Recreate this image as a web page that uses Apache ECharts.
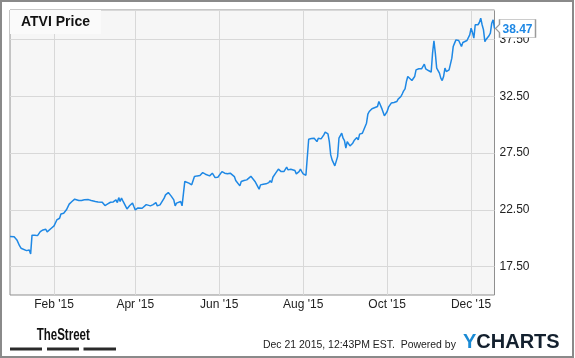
<!DOCTYPE html>
<html><head><meta charset="utf-8">
<script src="https://cdn.jsdelivr.net/npm/echarts@6/dist/echarts.min.js"></script>
<style>html,body{margin:0;padding:0;background:#fff}#c{width:575px;height:358px}</style>
</head><body><div id="c"></div>
<script>
const seriesName = 'ATVI Price';
const dates = [
'2014-12-31','2015-01-03','2015-01-05','2015-01-07','2015-01-08','2015-01-09','2015-01-12','2015-01-13','2015-01-14','2015-01-15','2015-01-16','2015-01-18','2015-01-20','2015-01-21','2015-01-22','2015-01-24','2015-01-26','2015-01-27','2015-01-28','2015-01-30',
'2015-02-01','2015-02-02','2015-02-03','2015-02-04','2015-02-05','2015-02-06','2015-02-08','2015-02-09','2015-02-10','2015-02-12','2015-02-14','2015-02-16','2015-02-17','2015-02-19','2015-02-21','2015-02-23','2015-02-24','2015-02-26','2015-02-28',
'2015-03-03','2015-03-04','2015-03-05','2015-03-06','2015-03-08','2015-03-09','2015-03-10','2015-03-12','2015-03-14','2015-03-16','2015-03-18','2015-03-19','2015-03-20','2015-03-21','2015-03-22','2015-03-23','2015-03-24','2015-03-26','2015-03-28','2015-03-30','2015-03-31',
'2015-04-01','2015-04-03','2015-04-06','2015-04-07','2015-04-09','2015-04-10','2015-04-12','2015-04-14','2015-04-15','2015-04-16','2015-04-17','2015-04-19','2015-04-20','2015-04-22','2015-04-23','2015-04-25','2015-04-26','2015-04-27','2015-04-29','2015-04-30',
'2015-05-01','2015-05-02','2015-05-04','2015-05-05','2015-05-06','2015-05-07','2015-05-08','2015-05-10','2015-05-12','2015-05-13','2015-05-14','2015-05-16','2015-05-18','2015-05-19','2015-05-20','2015-05-22','2015-05-23','2015-05-25','2015-05-27','2015-05-28','2015-05-29','2015-05-31',
'2015-06-01','2015-06-03','2015-06-04','2015-06-05','2015-06-07','2015-06-09','2015-06-10','2015-06-12','2015-06-13','2015-06-14','2015-06-16','2015-06-17','2015-06-19','2015-06-21','2015-06-22','2015-06-24','2015-06-25','2015-06-27','2015-06-29','2015-06-30',
'2015-07-01','2015-07-03','2015-07-05','2015-07-07','2015-07-08','2015-07-09','2015-07-10','2015-07-12','2015-07-14','2015-07-16','2015-07-18','2015-07-20','2015-07-21','2015-07-23','2015-07-24','2015-07-26','2015-07-27','2015-07-29','2015-07-30','2015-07-31',
'2015-08-01','2015-08-03','2015-08-04','2015-08-05','2015-08-07','2015-08-09','2015-08-11','2015-08-12','2015-08-14','2015-08-16','2015-08-17','2015-08-19','2015-08-20','2015-08-21','2015-08-22','2015-08-24','2015-08-25','2015-08-26','2015-08-27','2015-08-29','2015-08-30','2015-08-31',
'2015-09-01','2015-09-02','2015-09-03','2015-09-04','2015-09-06','2015-09-07','2015-09-09','2015-09-10','2015-09-11','2015-09-13','2015-09-14','2015-09-16','2015-09-17','2015-09-18','2015-09-20','2015-09-21','2015-09-24','2015-09-25','2015-09-26','2015-09-27','2015-09-29','2015-09-30',
'2015-10-01','2015-10-02','2015-10-04','2015-10-06','2015-10-07','2015-10-08','2015-10-09','2015-10-11','2015-10-12','2015-10-13','2015-10-14','2015-10-15','2015-10-16','2015-10-17','2015-10-19','2015-10-20','2015-10-21','2015-10-22','2015-10-24','2015-10-26','2015-10-27','2015-10-28','2015-10-29','2015-10-31',
'2015-11-01','2015-11-02','2015-11-03','2015-11-04','2015-11-05','2015-11-06','2015-11-08','2015-11-09','2015-11-10','2015-11-11','2015-11-12','2015-11-13','2015-11-15','2015-11-16','2015-11-17','2015-11-18','2015-11-19','2015-11-20','2015-11-22','2015-11-23','2015-11-24','2015-11-25','2015-11-26','2015-11-28','2015-11-29','2015-11-30',
'2015-12-01','2015-12-02','2015-12-03','2015-12-04','2015-12-05','2015-12-06','2015-12-07','2015-12-08','2015-12-09','2015-12-10','2015-12-11','2015-12-12','2015-12-14','2015-12-15','2015-12-16','2015-12-17','2015-12-18'
];
const prices = [
20.15,20.12,19.85,19.32,19.12,18.97,18.91,18.82,18.97,18.62,20.27,20.27,20.23,20.15,20.58,20.73,20.79,20.56,20.73,20.88,
21.09,21.17,21.61,21.55,21.76,22.14,22.2,22.2,22.5,23.0,23.23,23.44,23.5,23.32,23.32,23.38,23.53,23.4,23.32,
23.23,23.09,23.2,23.03,23.17,23.23,22.88,23.03,23.17,23.2,23.38,23.14,23.58,23.23,23.53,23.29,23.23,22.58,22.88,23.09,22.79,
22.5,22.67,22.64,22.73,22.96,22.94,22.85,22.96,22.85,23.14,22.85,22.94,23.09,23.53,23.82,24.02,23.91,23.73,23.38,22.85,
23.09,23.17,23.23,22.85,22.79,25.0,25.08,24.85,24.7,24.85,25.43,25.49,25.52,25.49,25.78,25.64,25.52,25.49,25.73,25.78,25.34,25.37,
25.49,25.87,25.96,25.73,25.67,25.73,25.58,25.43,25.08,25.0,24.61,25.0,25.08,25.14,25.29,25.45,25.43,25.0,24.55,24.32,
24.7,24.76,24.79,24.9,25.08,24.9,25.37,25.73,26.08,25.87,25.87,26.26,26.02,26.08,26.17,25.96,25.67,25.87,26.08,25.87,
25.67,25.55,25.64,28.72,28.78,28.81,28.51,28.81,28.75,29.1,29.34,29.19,28.51,27.34,26.9,26.37,26.26,27.19,28.81,29.25,28.81,28.6,
27.93,28.51,28.66,28.13,28.37,28.6,28.87,28.66,29.17,29.25,29.31,30.13,30.93,31.16,31.4,31.54,31.6,32.04,31.75,31.46,30.78,30.87,
31.16,31.54,31.9,31.95,31.83,32.04,32.25,32.48,32.72,32.98,33.16,33.8,34.24,34.1,33.89,33.86,34.24,34.83,34.92,34.92,34.98,35.33,34.92,34.77,
34.68,34.63,36.3,37.39,36.3,34.98,34.54,34.1,33.89,34.24,34.98,34.68,34.83,34.98,35.86,36.88,37.18,37.47,37.41,37.3,36.88,37.24,37.24,37.41,37.53,37.91,
38.5,38.12,37.62,38.8,38.88,38.8,39.0,39.38,38.8,38.35,37.32,37.53,37.83,38.06,38.94,39.24,38.47
];
const tickDates = ['2015-02-01','2015-04-01','2015-06-01','2015-08-01','2015-10-01','2015-12-01'];
const tickLabels = ["Feb '15","Apr '15","Jun '15","Aug '15","Oct '15","Dec '15"];
const yTickValues = [17.5, 22.5, 27.5, 32.5, 37.5];
const footerText = 'Dec 21 2015, 12:43PM EST.  Powered by';

const FONT = '"Liberation Sans", Arial, sans-serif';
function toTime(s) { const p = s.split('-').map(Number); return Date.UTC(p[0], p[1] - 1, p[2]); }
const times = dates.map(toTime);
const data = times.map((t, i) => [t, prices[i]]);
const lastIdx = prices.length - 1;
const tickTimes = tickDates.map(toTime);

const chart = echarts.init(document.getElementById('c'), null, {renderer: 'canvas'});
chart.setOption({
  animation: false,
  backgroundColor: '#fff',
  textStyle: {fontFamily: FONT},
  title: {
    text: seriesName, left: 10, top: 10,
    padding: [5, 11, 5, 11],
    backgroundColor: '#fafafa',
    textStyle: {fontFamily: FONT, fontSize: 14, fontWeight: 'bold', color: '#111'}
  },
  grid: {
    left: 10, right: 80.5, top: 10, bottom: 63,
    show: true, backgroundColor: '#f6f6f6', borderColor: '#8f8f8f', borderWidth: 1
  },
  xAxis: {
    type: 'value',
    min: times[0], max: times[lastIdx],
    axisLine: {show: false},
    axisTick: {show: false, customValues: tickTimes},
    splitLine: {show: true, lineStyle: {color: '#d8d8d8', width: 1}},
    axisLabel: {
      customValues: tickTimes,
      margin: 4, fontSize: 12, color: '#222', fontFamily: FONT,
      formatter: function (v) {
        const i = tickTimes.indexOf(+v);
        return i >= 0 ? tickLabels[i] : '';
      }
    }
  },
  yAxis: {
    type: 'value', position: 'right',
    min: 15, max: 40.1, interval: 2.5,
    axisLine: {show: false}, axisTick: {show: false},
    splitLine: {show: true, lineStyle: {color: ['rgba(0,0,0,0)', '#d8d8d8'], width: 1}},
    axisLabel: {
      margin: 5, fontSize: 12, color: '#222', fontFamily: FONT,
      formatter: function (v) {
        return yTickValues.some(t => Math.abs(t - v) < 1e-6) ? v.toFixed(2) : '';
      }
    }
  },
  series: [{
    name: seriesName, type: 'line', data: data,
    showSymbol: false, symbol: 'none',
    lineStyle: {color: '#1e88e5', width: 1.5},
    itemStyle: {color: '#1e88e5'},
    z: 3,
    markPoint: {
      symbol: 'path://M0,9 L4,5 L4,0 L40,0 L40,18 L4,18 L4,13 Z',
      symbolSize: [40, 18],
      symbolOffset: [21, 0],
      itemStyle: {color: '#fff', borderColor: '#9a9a9a', borderWidth: 1},
      label: {
        show: true, position: 'inside', offset: [2, 1],
        color: '#1e88e5', fontWeight: 'bold', fontSize: 12, fontFamily: FONT,
        formatter: p => p.value.toFixed(2)
      },
      data: [{coord: [times[lastIdx], prices[lastIdx]], value: prices[lastIdx]}]
    }
  }],
  graphic: [
    {type: 'rect', silent: true, shape: {x: 1, y: 1, width: 572, height: 356},
     style: {fill: 'none', stroke: '#8a8a8a', lineWidth: 2}, z: 100},
    {type: 'text', x: 36.7, y: 336, scaleX: 0.72,
     style: {text: 'TheStreet', font: 'bold 16px ' + FONT, fill: '#111', textVerticalAlign: 'middle'}},
    {type: 'rect', shape: {x: 10, y: 347.5, width: 32, height: 3}, style: {fill: '#2a2a2a'}},
    {type: 'rect', shape: {x: 47, y: 347.5, width: 32, height: 3}, style: {fill: '#2a2a2a'}},
    {type: 'rect', shape: {x: 83.5, y: 347.5, width: 32.5, height: 3}, style: {fill: '#2a2a2a'}},
    {type: 'text', x: 263, y: 345, scaleX: 0.95,
     style: {text: footerText, font: '11px ' + FONT, fill: '#222', textVerticalAlign: 'middle'}},
    {type: 'text', x: 463, y: 342,
     style: {
       text: '{y|Y}{c|CHARTS}', textVerticalAlign: 'middle',
       rich: {
         y: {font: 'bold 20px ' + FONT, fill: '#1a8ad4', color: '#1a8ad4'},
         c: {font: 'bold 20px ' + FONT, fill: '#13202e', color: '#13202e'}
       }
     }}
  ]
});
</script>
</body></html>
